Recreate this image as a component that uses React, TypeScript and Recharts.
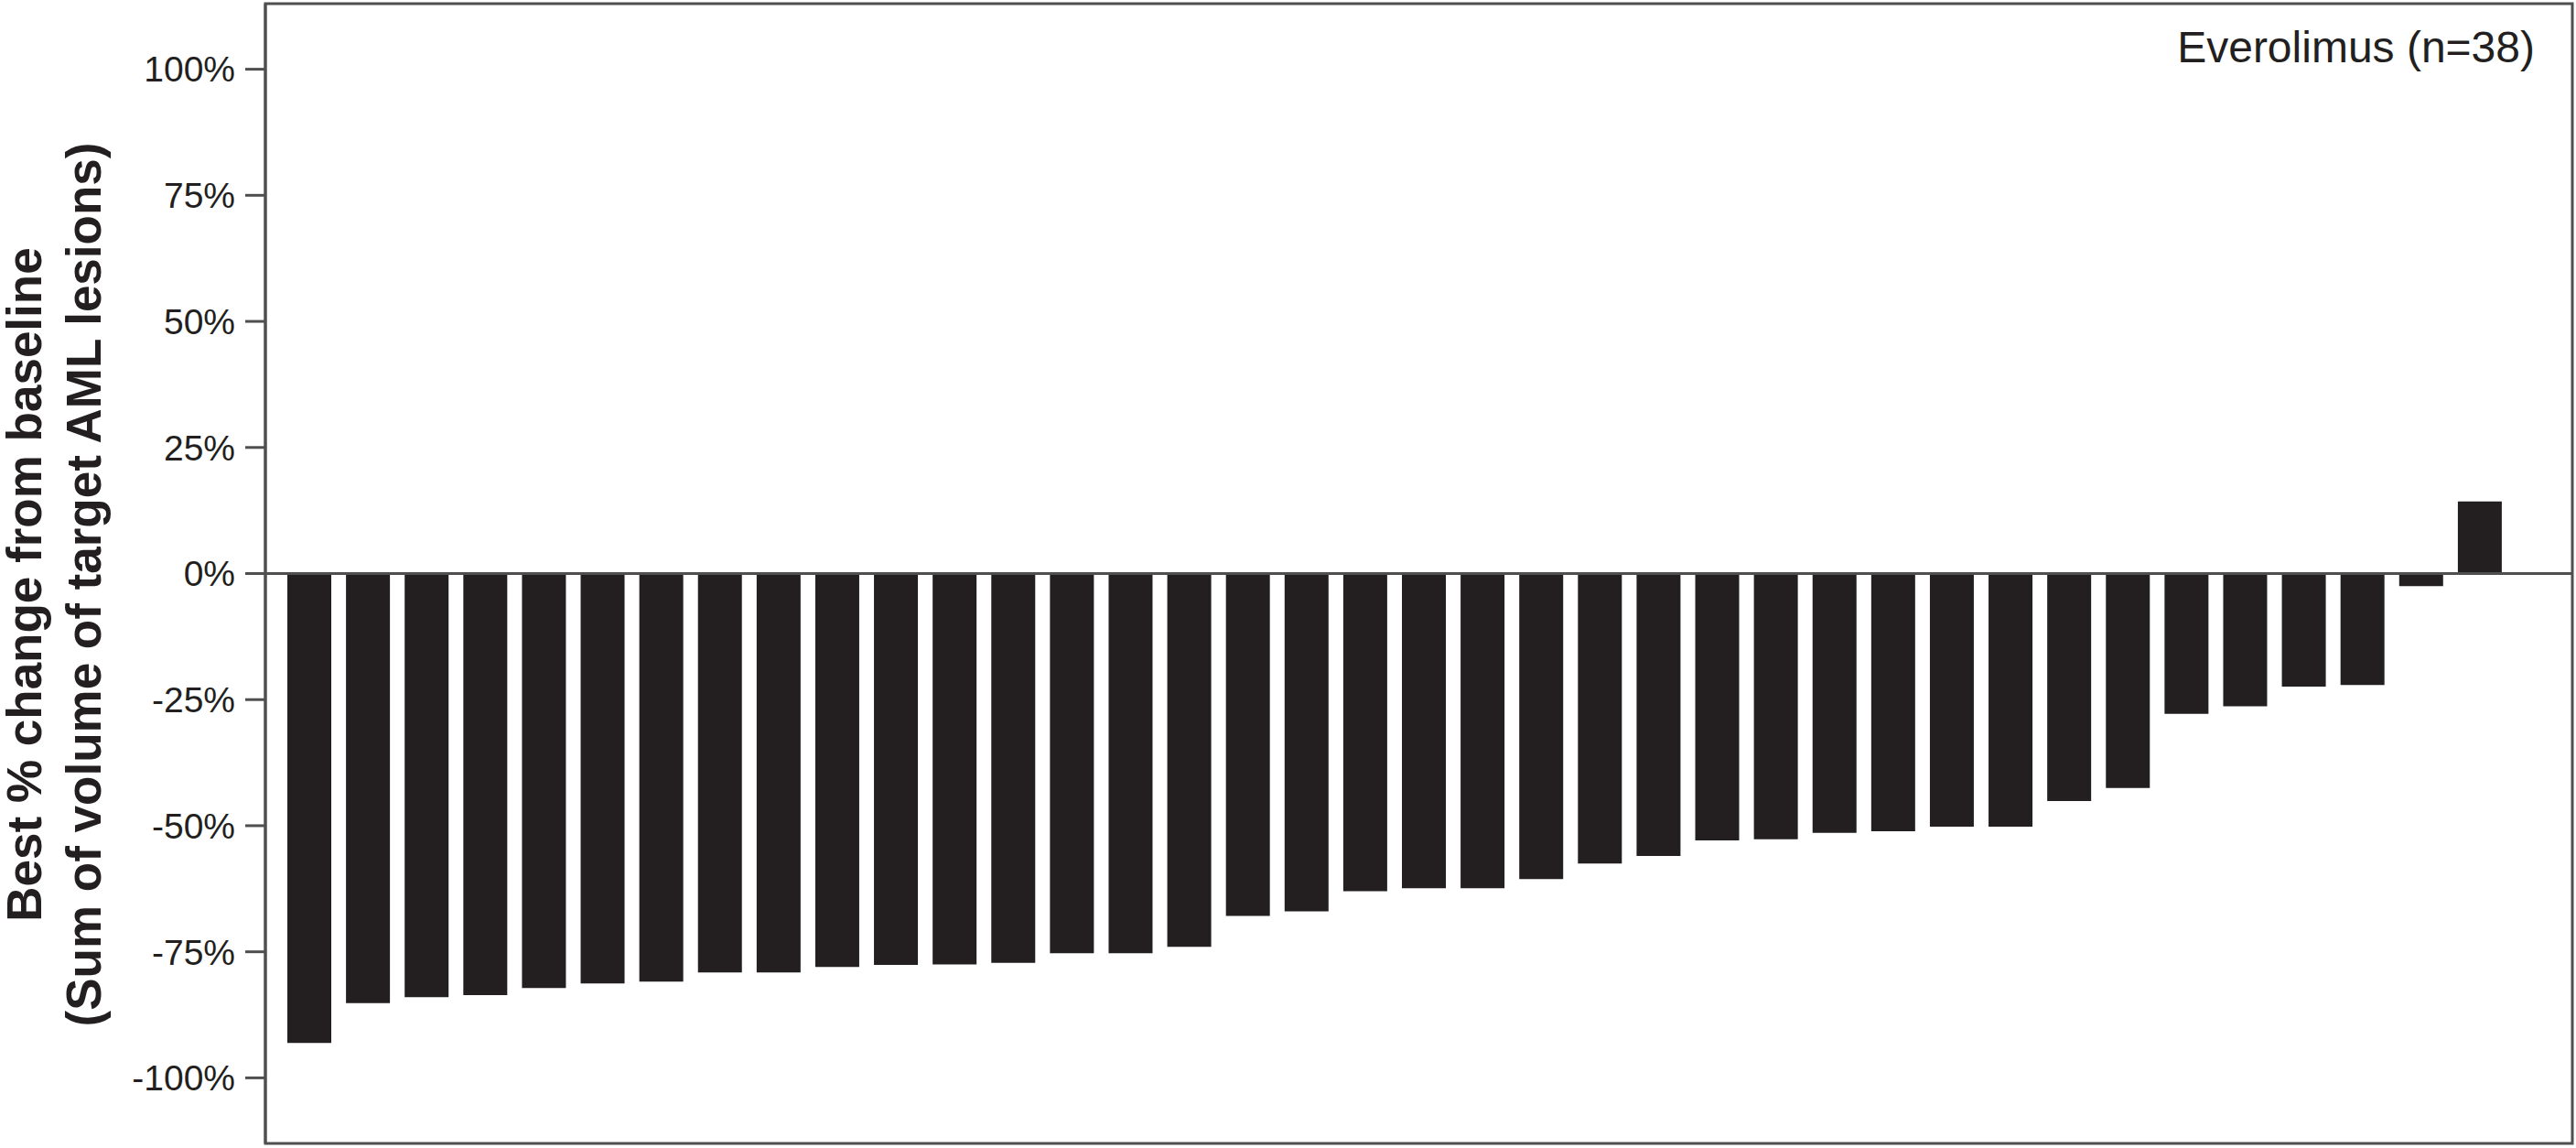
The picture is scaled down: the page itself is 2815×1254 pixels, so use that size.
import * as Recharts from 'recharts'
import { Bar, BarChart, ReferenceLine, XAxis, YAxis } from 'recharts'

// best % change from baseline, one bar per patient, sorted
const bestChange = [
  -93.1, -85.2, -84.0, -83.6, -82.2, -81.3, -80.9, -79.1, -79.1, -78.0,
  -77.6, -77.5, -77.2, -75.3, -75.3, -74.0, -67.9, -67.0, -63.0, -62.4,
  -62.4, -60.6, -57.5, -56.0, -52.9, -52.7, -51.4, -51.1, -50.2, -50.2,
  -45.1, -42.5, -27.8, -26.3, -22.4, -22.1, -2.5, 14.3,
]
const patients = bestChange.map((_, i) => `P${i + 1}`)
const yTicks = [-100, -75, -50, -25, 0, 25, 50, 75, 100]
const yDomain = [-113, 113]
const armLabel = 'Everolimus (n=38)'
const yTitleLines = [
  'Best % change from baseline',
  '(Sum of volume of target AML lesions)',
]

const data = patients.map((patient, i) => ({ patient, change: bestChange[i] }))

const FONT = '"Liberation Sans", Arial, Helvetica, sans-serif'
const INK = '#231f20'
const FRAME = '#4f4f4f'

const usePlot: () => any =
  (Recharts as any).usePlotArea ||
  (() => {
    const o = (Recharts as any).useOffset?.()
    return o ? { x: o.left, y: o.top, width: o.width, height: o.height } : null
  })

function YAxisTitle({ viewBox }: any) {
  const { x, y, height } = viewBox
  const cy = y + height / 2 + 12
  return (
    <g>
      {yTitleLines.map((line, i) => {
        const cx = x + 45 + i * 65
        return (
          <text
            key={line}
            x={cx}
            y={cy}
            transform={`rotate(-90 ${cx} ${cy})`}
            textAnchor="middle"
            fontFamily={FONT}
            fontSize={53}
            fontWeight="bold"
            fill={INK}
          >
            {line}
          </text>
        )
      })}
    </g>
  )
}

// box round the plot area and the arm label in its top-right corner
function Frame() {
  const plot = usePlot()
  if (!plot) return null
  const { x, y, width, height } = plot
  return (
    <g>
      <rect
        x={x}
        y={y}
        width={width}
        height={height}
        fill="none"
        stroke={FRAME}
        strokeWidth={3}
      />
      <text
        x={x + width - 41}
        y={y + 64}
        textAnchor="end"
        fontFamily={FONT}
        fontSize={48}
        fill={INK}
      >
        {armLabel}
      </text>
    </g>
  )
}

export default function App() {
  const frameLine = { stroke: FRAME, strokeWidth: 3 }
  return (
    <div style={{ position: 'absolute', left: 0, top: 0, background: '#fff' }}>
      <BarChart
        width={2815}
        height={1254}
        data={data}
        margin={{ top: 4, right: 4, bottom: 5, left: 0 }}
      >
        <XAxis
          dataKey="patient"
          height={0}
          tick={false}
          tickLine={false}
          axisLine={false}
          padding={{ left: 16, right: 69 }}
        />
        <YAxis
          width={290}
          domain={yDomain}
          ticks={yTicks}
          interval={0}
          tickFormatter={(v: number) => `${v}%`}
          tick={{ fontFamily: FONT, fontSize: 39, fill: INK }}
          tickSize={22}
          tickMargin={11}
          tickLine={frameLine}
          axisLine={frameLine}
          label={<YAxisTitle />}
        />
        <Bar
          dataKey="change"
          fill={INK}
          barSize={48}
          isAnimationActive={false}
        />
        <ReferenceLine y={0} stroke={FRAME} strokeWidth={3} />
        <Frame />
      </BarChart>
    </div>
  )
}
